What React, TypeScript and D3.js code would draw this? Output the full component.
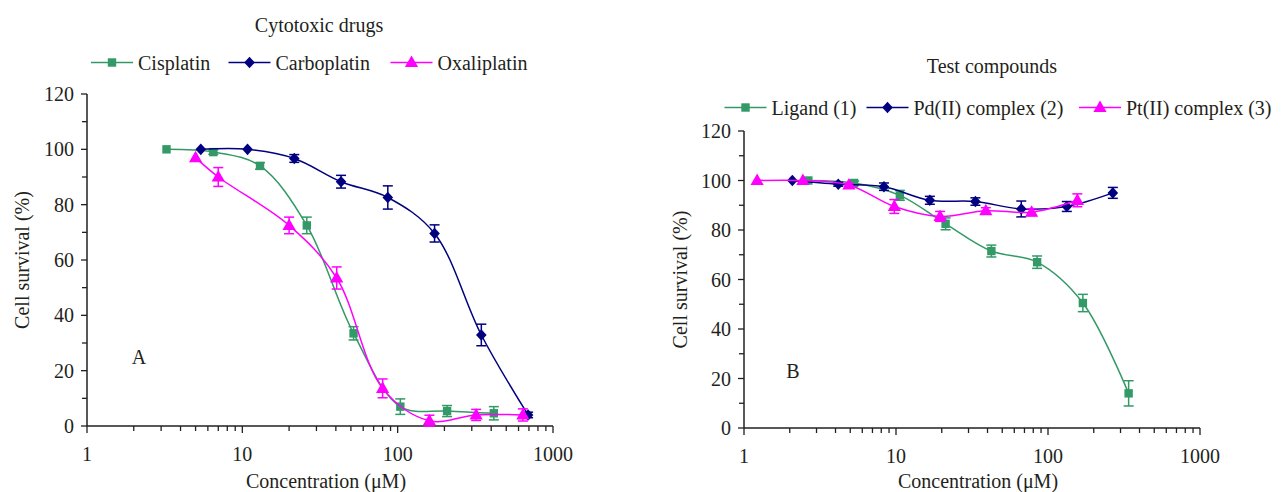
import React from 'react';
import * as d3 from 'd3';

// Panel A: cytotoxic drugs (concentration µM, survival %, error)
const cisplatinConc = [3.25, 6.5, 13, 26, 52, 104, 208, 416];
const cisplatinSurv = [100, 99, 94, 72.5, 33.5, 7, 5.4, 4.6];
const cisplatinErr = [0, 0.8, 1.2, 3, 2.4, 2.8, 2, 2.4];

const carboplatinConc = [5.4, 10.8, 21.6, 43.2, 86.4, 172.8, 345.6, 691.2];
const carboplatinSurv = [100, 100, 96.7, 88.3, 82.6, 69.6, 32.9, 4];
const carboplatinErr = [0, 0, 1.4, 2.3, 4.2, 3.1, 3.9, 1];

const oxaliplatinConc = [5, 7, 20, 40.5, 80, 160, 320, 640];
const oxaliplatinSurv = [97, 90, 72.5, 53.5, 13.6, 1.9, 4, 4];
const oxaliplatinErr = [0, 3.4, 3, 4, 3.4, 2, 2, 2.2];

// Panel B: test compounds
const ligandConc = [2.65, 5.3, 10.6, 21.2, 42.4, 84.8, 169.6, 339.2];
const ligandSurv = [100, 99, 94, 82.5, 71.5, 67, 50.5, 14];
const ligandErr = [0, 0.8, 2, 2.4, 2.4, 2.5, 3.5, 5.1];

const pdConc = [2.08, 4.17, 8.33, 16.7, 33.3, 66.7, 133, 267];
const pdSurv = [100, 98.5, 97.5, 92, 91.5, 88.5, 89.5, 95];
const pdErr = [0, 0.8, 1.5, 1.6, 1.5, 3.2, 2, 2.2];

const ptConc = [1.22, 2.44, 4.9, 9.75, 19.5, 39, 78, 156];
const ptSurv = [100, 100, 98.2, 89.5, 85.5, 87.8, 87.2, 92];
const ptErr = [0, 0, 0.6, 2.8, 2, 1.2, 1.4, 2.6];

const xTickValues = [1, 10, 100, 1000];
const yTickValues = [0, 20, 40, 60, 80, 100, 120];

const GREEN = '#339966';
const NAVY = '#000080';
const MAGENTA = '#ff00ff';
const AXIS = '#231f20';
const FONT = '"Liberation Serif", "Times New Roman", serif';

type Shape = 'square' | 'diamond' | 'triangle';

interface Series {
  name: string;
  color: string;
  shape: Shape;
  conc: number[];
  surv: number[];
  err: number[];
  legendX: number;
}

function Marker({shape, x, y, color}: {shape: Shape; x: number; y: number; color: string}) {
  if (shape === 'square') {
    return <rect x={x - 4.2} y={y - 4.2} width={8.4} height={8.4} fill={color} />;
  }
  if (shape === 'diamond') {
    return (
      <path
        d={`M${x},${y - 5.8}L${x + 5.3},${y}L${x},${y + 5.8}L${x - 5.3},${y}Z`}
        fill={color}
      />
    );
  }
  return (
    <path
      d={`M${x},${y - 7}L${x + 6.6},${y + 4.6}L${x - 6.6},${y + 4.6}Z`}
      fill={color}
    />
  );
}

interface PanelProps {
  series: Series[];
  x0: number;
  x1: number;
  yBottom: number;
  yTop: number;
  title: string;
  titleX: number;
  titleY: number;
  legendY: number;
  letter: string;
  letterX: number;
  letterY: number;
  yLabelX: number;
  xLabelX: number;
}

function Panel(p: PanelProps) {
  const x = d3.scaleLog().domain([1, 1000]).range([p.x0, p.x1]);
  const y = d3.scaleLinear().domain([0, 120]).range([p.yBottom, p.yTop]);

  const line = d3
    .line<[number, number]>()
    .x(d => x(d[0]))
    .y(d => y(d[1]))
    .curve(d3.curveCatmullRom.alpha(0.5));

  const minorX: number[] = [];
  for (let dec = 1; dec < 1000; dec *= 10) {
    for (let k = 2; k <= 9; k++) minorX.push(dec * k);
  }
  const minorY = d3.range(10, 120, 20);

  return (
    <g fontFamily={FONT} fill="#231f20">
      <text x={p.titleX} y={p.titleY} fontSize={20} textAnchor="middle">
        {p.title}
      </text>

      {p.series.map(s => (
        <g key={s.name}>
          <line
            x1={s.legendX}
            x2={s.legendX + 42}
            y1={p.legendY}
            y2={p.legendY}
            stroke={s.color}
            strokeWidth={1.6}
          />
          <Marker shape={s.shape} x={s.legendX + 21} y={p.legendY} color={s.color} />
          <text x={s.legendX + 47} y={p.legendY + 7} fontSize={20}>
            {s.name}
          </text>
        </g>
      ))}

      {/* axes */}
      <line x1={p.x0} x2={p.x0} y1={p.yTop} y2={p.yBottom} stroke={AXIS} strokeWidth={1.5} />
      <line x1={p.x0} x2={p.x1} y1={p.yBottom} y2={p.yBottom} stroke={AXIS} strokeWidth={1.5} />
      {yTickValues.map(v => (
        <g key={'y' + v}>
          <line x1={p.x0 - 6} x2={p.x0} y1={y(v)} y2={y(v)} stroke={AXIS} strokeWidth={1.3} />
          <text x={p.x0 - 13} y={y(v) + 7} fontSize={20} textAnchor="end">
            {v}
          </text>
        </g>
      ))}
      {minorY.map(v => (
        <line key={'my' + v} x1={p.x0 - 5} x2={p.x0} y1={y(v)} y2={y(v)} stroke={AXIS} strokeWidth={1.3} />
      ))}
      {xTickValues.map(v => (
        <g key={'x' + v}>
          <line x1={x(v)} x2={x(v)} y1={p.yBottom} y2={p.yBottom + 7} stroke={AXIS} strokeWidth={1.3} />
          <text x={x(v)} y={p.yBottom + 35} fontSize={20} textAnchor="middle">
            {v}
          </text>
        </g>
      ))}
      {minorX.map(v => (
        <line key={'mx' + v} x1={x(v)} x2={x(v)} y1={p.yBottom} y2={p.yBottom + 5} stroke={AXIS} strokeWidth={1.3} />
      ))}

      <text
        transform={`translate(${p.yLabelX},${(p.yTop + p.yBottom) / 2}) rotate(-90)`}
        fontSize={20}
        textAnchor="middle"
      >
        Cell survival (%)
      </text>
      <text x={p.xLabelX} y={488} fontSize={20} textAnchor="middle">
        Concentration (μM)
      </text>
      <text x={p.letterX} y={p.letterY} fontSize={20} textAnchor="middle">
        {p.letter}
      </text>

      {/* series */}
      {p.series.map(s => {
        const pts = s.conc.map((c, i) => [c, s.surv[i]] as [number, number]);
        return (
          <g key={'s' + s.name}>
            <path d={line(pts) || ''} fill="none" stroke={s.color} strokeWidth={1.5} />
            {pts.map((d, i) =>
              s.err[i] > 0 ? (
                <g key={i} stroke={s.color} strokeWidth={1.5}>
                  <line x1={x(d[0])} x2={x(d[0])} y1={y(d[1] - s.err[i])} y2={y(d[1] + s.err[i])} />
                  <line x1={x(d[0]) - 5} x2={x(d[0]) + 5} y1={y(d[1] + s.err[i])} y2={y(d[1] + s.err[i])} />
                  <line x1={x(d[0]) - 5} x2={x(d[0]) + 5} y1={y(d[1] - s.err[i])} y2={y(d[1] - s.err[i])} />
                </g>
              ) : null
            )}
            {pts.map((d, i) => (
              <Marker key={'m' + i} shape={s.shape} x={x(d[0])} y={y(d[1])} color={s.color} />
            ))}
          </g>
        );
      })}
    </g>
  );
}

const seriesA: Series[] = [
  {name: 'Cisplatin', color: GREEN, shape: 'square', conc: cisplatinConc, surv: cisplatinSurv, err: cisplatinErr, legendX: 91},
  {name: 'Carboplatin', color: NAVY, shape: 'diamond', conc: carboplatinConc, surv: carboplatinSurv, err: carboplatinErr, legendX: 228.5},
  {name: 'Oxaliplatin', color: MAGENTA, shape: 'triangle', conc: oxaliplatinConc, surv: oxaliplatinSurv, err: oxaliplatinErr, legendX: 390.5}
];

const seriesB: Series[] = [
  {name: 'Ligand (1)', color: GREEN, shape: 'square', conc: ligandConc, surv: ligandSurv, err: ligandErr, legendX: 724.5},
  {name: 'Pd(II) complex (2)', color: NAVY, shape: 'diamond', conc: pdConc, surv: pdSurv, err: pdErr, legendX: 866.5},
  {name: 'Pt(II) complex (3)', color: MAGENTA, shape: 'triangle', conc: ptConc, surv: ptSurv, err: ptErr, legendX: 1079}
];

export default function App() {
  return (
    <svg
      width={1281}
      height={492}
      style={{position: 'absolute', left: 0, top: 0, background: '#fff'}}
    >
      <Panel
        series={seriesA}
        x0={87}
        x1={553}
        yBottom={426}
        yTop={94}
        title="Cytotoxic drugs"
        titleX={319}
        titleY={32}
        legendY={62.5}
        letter="A"
        letterX={139}
        letterY={364}
        yLabelX={29}
        xLabelX={326}
      />
      <Panel
        series={seriesB}
        x0={744}
        x1={1200}
        yBottom={428}
        yTop={131}
        title="Test compounds"
        titleX={992}
        titleY={73}
        legendY={107.5}
        letter="B"
        letterX={793}
        letterY={378}
        yLabelX={687}
        xLabelX={978}
      />
    </svg>
  );
}
